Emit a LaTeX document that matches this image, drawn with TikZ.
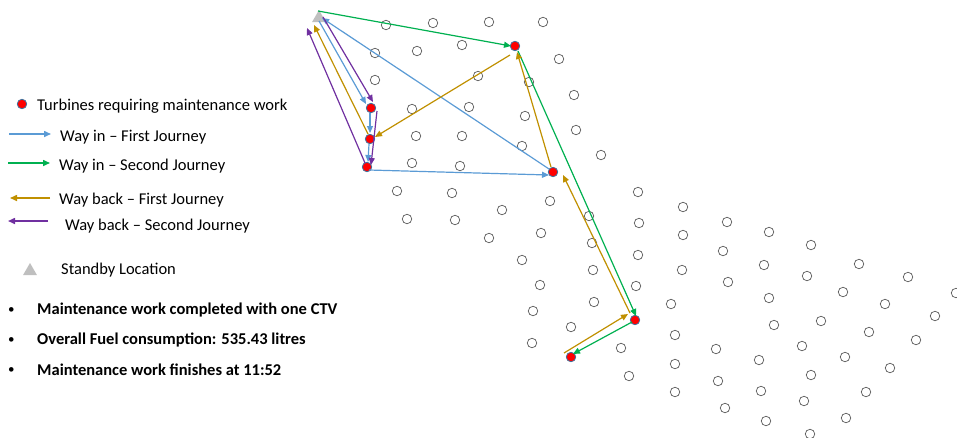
\documentclass[tikz,border=0pt]{standalone}
\usepackage{fontspec}
\setmainfont{Carlito}
\usetikzlibrary{arrows.meta,shapes.geometric,calc}

\definecolor{inone}{HTML}{5B9BD5}
\definecolor{intwo}{HTML}{00B050}
\definecolor{backone}{HTML}{C09000}
\definecolor{backtwo}{HTML}{7030A0}
\definecolor{dotedge}{HTML}{41719C}
\definecolor{standby}{HTML}{BFBFBF}
\definecolor{ringgray}{HTML}{595959}

\tikzset{
  turbine/.style={circle, draw=ringgray, fill=white, line width=0.7pt, inner sep=0pt, minimum size=9.5pt},
  service/.style={circle, draw=dotedge, fill=red, line width=0.8pt, inner sep=0pt, minimum size=9.5pt},
  base/.style={regular polygon, regular polygon sides=3, fill=standby, inner sep=0pt, minimum size=16pt},
  route/.style={line width=1.2pt, -{Triangle[length=7pt,width=6pt]}},
  legroute/.style={line width=1.5pt, -{Triangle[length=7pt,width=6pt]}},
  label/.style={anchor=west, inner sep=0pt, yshift=-2pt, font=\fontsize{16.5}{19}\selectfont},
  boldlabel/.style={anchor=west, inner sep=0pt, yshift=-2pt, font=\fontsize{16.5}{19}\selectfont\bfseries},
  bulletmark/.style={anchor=west, inner sep=0pt, yshift=-2pt, font=\fontsize{13}{15}\selectfont},
}

\begin{document}
\begin{tikzpicture}[x=1pt, y=-1pt]
\useasboundingbox (0,0) rectangle (957,437);

% wind farm layout
\foreach \px/\py [count=\i] in {
  386/25, 433/23, 489/22, 543/22,
  375/53, 417/51, 462/45, 559/59,
  375/80, 478/76, 529/82, 574/95,
  412/109, 469/107, 525/116, 576/130,
  416/136, 462/136, 522/146, 601/155,
  412/163, 460/166,
  397/191, 452/193, 550/201, 502/210, 407/219, 455/220, 541/233, 489/238, 522/260,
  589/216, 592/243, 593/270, 540/285, 594/302, 533/311, 571/327, 532/343, 621/348, 629/376,
  638/192, 639/223, 638/255, 636/286,
  683/207, 683/235, 682/270, 671/304, 675/335, 675/364, 675/392,
  727/222, 723/251, 728/282, 716/349, 718/381, 725/408,
  769/232, 764/265, 769/298, 774/325, 759/360, 761/391, 766/421,
  811/245, 807/276, 821/321, 802/346, 811/375, 804/401, 810/434,
  859/264, 843/292, 869/332, 845/357, 866/392, 846/418,
  908/277, 885/304, 916/340, 890/368,
  956/293, 935/316}
  \node[turbine] (t\i) at (\px,\py) {};

% standby location and turbines needing work
\node[base] (tri) at (319,18) {};
\node[service] (r1) at (371,108) {};
\node[service] (r2) at (370,139) {};
\node[service] (r3) at (367,167) {};
\node[service] (r4) at (515,46) {};
\node[service] (r5) at (553,172) {};
\node[service] (r6) at (635,320) {};
\node[service] (r7) at (571,357) {};
\coordinate (pend) at (307,28);

% way in, first journey
\draw[route, inone] ([shift={(0,3)}]tri.center) -- ([shift={(-5,-4)}]r1.center);
\draw[route, inone] ([shift={(-1,5)}]r1.center) -- ([shift={(0,-6)}]r2.center);
\draw[route, inone] ([shift={(-1,5)}]r2.center) -- ([shift={(1,-5)}]r3.center);
\draw[route, inone] ([shift={(2,3)}]r3.center) -- ([shift={(-4,3)}]r5.center);
\draw[route, inone] ([shift={(-4,-3)}]r5.center) -- ([shift={(3,0)}]tri.center);

% way in, second journey
\draw[route, intwo] ([shift={(-1,-7)}]tri.center) -- ([shift={(-4,0)}]r4.center);
\draw[route, intwo] ([shift={(3,5)}]r4.center) -- ([shift={(1,-4)}]r6.center);
\draw[route, intwo] ([shift={(-3,2)}]r6.center) -- ([shift={(2,-3)}]r7.center);

% way back, first journey
\draw[route, backone] ([shift={(-2,-5)}]r2.center) -- ([shift={(-5,7)}]tri.center);
\draw[route, backone] ([shift={(-5,9)}]r4.center) -- ([shift={(5,-2)}]r2.center);
\draw[route, backone] ([shift={(-2,-5)}]r5.center) -- ([shift={(2,6)}]r4.center);
\draw[route, backone] ([shift={(-5,-7)}]r6.center) -- ([shift={(10,3)}]r5.center);
\draw[route, backone] ([shift={(-7,-4)}]r7.center) -- ([shift={(-7,-6)}]r6.center);

% way back, second journey
\draw[route, backtwo] ([shift={(4,-1)}]tri.center) -- ([shift={(2,-6)}]r1.center);
\draw[route, backtwo] ([shift={(6,3)}]r1.center) -- ([shift={(4,-2)}]r3.center);
\draw[route, backtwo] ([shift={(-2,-4)}]r3.center) -- (pend);

% legend
\node[service] (lg0) at (22,104) {};
\node[label] (lt0) at (37,104) {Turbines requiring maintenance work};

\coordinate (la1) at (9,134);  \coordinate (lb1) at (51,134);
\draw[legroute, inone] (la1) -- (lb1);
\node[label] (lt1) at (60,135) {Way in – First Journey};

\coordinate (la2) at (8,163);  \coordinate (lb2) at (50,163);
\draw[legroute, intwo] (la2) -- (lb2);
\node[label] (lt2) at (59,164) {Way in – Second Journey};

\coordinate (la3) at (50,198); \coordinate (lb3) at (10,198);
\draw[legroute, backone] (la3) -- (lb3);
\node[label] (lt3) at (59,198) {Way back – First Journey};

\coordinate (la4) at (48,221); \coordinate (lb4) at (8,221);
\draw[legroute, backtwo] (la4) -- (lb4);
\node[label] (lt4) at (65,224) {Way back – Second Journey};

\node[base] (lg5) at (30,271) {};
\node[label] (lt5) at (61,268) {Standby Location};

\node[bulletmark] (lb6) at (8,309) {•};
\node[boldlabel] (lt6) at (37,308) {Maintenance work completed with one CTV};
\node[bulletmark] (lb7) at (8,339) {•};
\node[boldlabel] (lt7) at (37,338) {Overall Fuel consumption: 535.43 litres};
\node[bulletmark] (lb8) at (8,369) {•};
\node[boldlabel] (lt8) at (37,368) {Maintenance work finishes at 11:52};
\end{tikzpicture}
\end{document}
